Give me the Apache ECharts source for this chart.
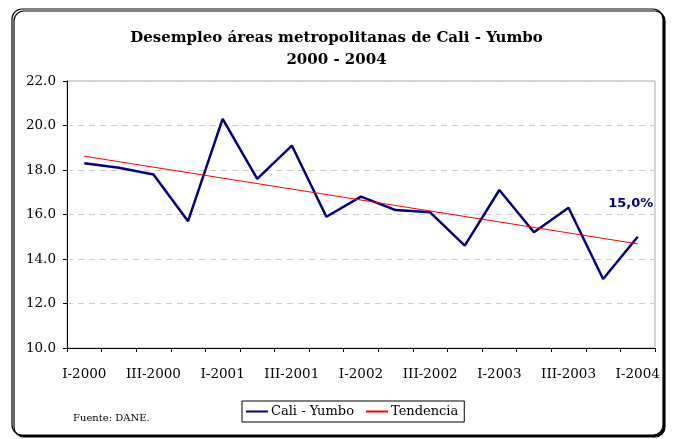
<!DOCTYPE html>
<html>
<head>
<meta charset="utf-8">
<script src="https://cdn.jsdelivr.net/npm/echarts@6/dist/echarts.min.js"></script>
<style>
  html, body { margin: 0; padding: 0; background: #fff; }
  #chart { width: 673px; height: 439px; }
</style>
</head>
<body>
<div id="chart"></div>
<script>
// trimestres 2000 - 2004
const quarters = [
  'I-2000', 'II-2000', 'III-2000', 'IV-2000',
  'I-2001', 'II-2001', 'III-2001', 'IV-2001',
  'I-2002', 'II-2002', 'III-2002', 'IV-2002',
  'I-2003', 'II-2003', 'III-2003', 'IV-2003',
  'I-2004'
]
// tasa de desempleo Cali - Yumbo (%)
const desempleo = [18.3, 18.1, 17.8, 15.7, 20.3, 17.6, 19.1, 15.9, 16.8, 16.2, 16.1, 14.6, 17.1, 15.2, 16.3, 13.1, 15.0]
// tendencia lineal: solo extremos
const tendencia = [18.62, null, null, null, null, null, null, null, null, null, null, null, null, null, null, null, 14.68]
const yTicks = [10, 12, 14, 16, 18, 20, 22]

const serif = 'DejaVu Serif'
const chart = echarts.init(document.getElementById('chart'))

const lastIdx = desempleo.length - 1
const desempleoData = desempleo.map((v, i) => {
  if (i !== lastIdx) return v
  // etiqueta solo en el ultimo trimestre
  return {
    value: v,
    label: {
      show: true,
      position: 'top',
      offset: [-7, -22],
      formatter: (p) => p.value.toFixed(1).replace('.', ',') + '%',
      color: '#000080',
      fontFamily: 'DejaVu Sans',
      fontWeight: 'bold',
      fontSize: 13,
    },
  }
})

const option = {
  animation: false,
  backgroundColor: '#fff',
  graphic: [
    {
      type: 'rect',
      z: -10,
      shape: { x: 12, y: 9, width: 651, height: 426, r: 10 },
      style: {
        fill: '#fff',
        stroke: '#000',
        lineWidth: 1.2,
        shadowColor: '#000',
        shadowOffsetX: 2,
        shadowOffsetY: 2,
        shadowBlur: 0,
      },
    },
    {
      type: 'text',
      left: 73,
      top: 413,
      style: {
        text: 'Fuente: DANE.',
        fontFamily: serif,
        fontSize: 10,
        fill: '#000',
      },
    },
  ],
  title: {
    text: 'Desempleo áreas metropolitanas de Cali - Yumbo\n2000 - 2004',
    left: 'center',
    top: 22,
    textStyle: {
      fontFamily: serif,
      fontWeight: 'bold',
      fontSize: 15,
      lineHeight: 22,
      color: '#000',
    },
  },
  legend: {
    left: 242,
    top: 401,
    padding: [4, 6, 4, 4],
    itemGap: 12,
    itemWidth: 22,
    itemHeight: 2,
    borderColor: '#000',
    borderWidth: 1,
    borderRadius: 0,
    textStyle: { fontFamily: serif, fontSize: 13, color: '#000', padding: [0, 0, 0, -2] },
    data: [
      { name: 'Cali - Yumbo', icon: 'rect' },
      { name: 'Tendencia', icon: 'rect' },
    ],
  },
  grid: {
    left: 67,
    right: 18,
    top: 81,
    bottom: 91,
    show: true,
    borderColor: '#aaa',
    borderWidth: 1,
  },
  xAxis: {
    type: 'category',
    data: quarters,
    boundaryGap: true,
    axisLine: { lineStyle: { color: '#000', width: 1 } },
    axisTick: { show: true, interval: 0, length: 4, lineStyle: { color: '#000' } },
    axisLabel: {
      interval: 1,
      margin: 19,
      fontFamily: serif,
      fontSize: 13.5,
      color: '#000',
    },
  },
  yAxis: {
    type: 'value',
    min: yTicks[0],
    max: yTicks[yTicks.length - 1],
    interval: 2,
    axisLine: { show: true, lineStyle: { color: '#000', width: 1 } },
    axisTick: { show: true, length: 4, lineStyle: { color: '#000' } },
    axisLabel: {
      margin: 11,
      fontFamily: serif,
      fontSize: 13.5,
      color: '#000',
      formatter: (v) => v.toFixed(1),
    },
    splitLine: { lineStyle: { color: '#ccc', type: [6, 5], width: 1 } },
  },
  series: [
    {
      name: 'Cali - Yumbo',
      type: 'line',
      data: desempleoData,
      symbol: 'circle',
      symbolSize: 0,
      showSymbol: true,
      itemStyle: { color: '#000080' },
      lineStyle: { color: '#000080', width: 2.5 },
      z: 3,
    },
    {
      name: 'Tendencia',
      type: 'line',
      data: tendencia,
      connectNulls: true,
      symbol: 'none',
      itemStyle: { color: '#ff0000' },
      lineStyle: { color: '#ff0000', width: 1 },
      z: 4,
    },
  ],
}

chart.setOption(option)
</script>
</body>
</html>
